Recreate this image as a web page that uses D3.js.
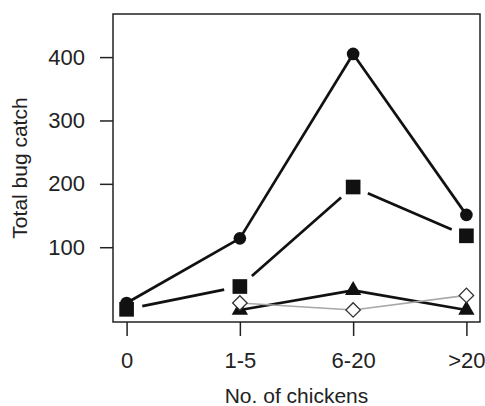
<!DOCTYPE html>
<html>
<head>
<meta charset="utf-8">
<script src="https://cdn.jsdelivr.net/npm/d3@7"></script>
<style>
  body { margin: 0; background: #fff; }
  text { font-family: "Liberation Sans", Arial, sans-serif; fill: #222; }
</style>
</head>
<body>
<div id="chart"></div>
<script>
// categories on the x axis
var categories = ["0", "1-5", "6-20", ">20"];

// series (null = no point)
var circleSeries = [12, 114, 405, 151];
var squareSeries = [2, 38, 195, 118];
var triangleSeries = [null, 1, 32, 1];
var diamondSeries = [null, 12, 1, 24];

var yTicks = [100, 200, 300, 400];

var width = 485, height = 406;
var plotLeft = 113, plotRight = 480, plotTop = 14, plotBottom = 322;

var svg = d3.select("#chart").append("svg")
  .attr("width", width)
  .attr("height", height);

// R style 4% padding
var x = d3.scaleLinear().domain([0.88, 4.12]).range([plotLeft, plotRight]);
var y = d3.scaleLinear().domain([-18, 468]).range([plotBottom, plotTop]);

//box
svg.append("rect")
  .attr("x", plotLeft).attr("y", plotTop)
  .attr("width", plotRight - plotLeft).attr("height", plotBottom - plotTop)
  .attr("fill", "none").attr("stroke", "#222").attr("stroke-width", 1.5);

// y axis
var yAxis = d3.axisLeft(y).tickValues(yTicks).tickSize(13).tickPadding(15);
var gy = svg.append("g").attr("transform", "translate(" + plotLeft + ",0)").call(yAxis);
gy.select(".domain").remove();
gy.selectAll("line").attr("stroke", "#222").attr("stroke-width", 1.5);
gy.selectAll("text").style("font-size", "22px").attr("fill", "#222")
  .style("font-family", "Liberation Sans, Arial, sans-serif");

// x axis
var xAxis = d3.axisBottom(x).tickValues([1, 2, 3, 4])
  .tickFormat(function (d) { return categories[d - 1]; })
  .tickSize(14).tickPadding(16);
var gx = svg.append("g").attr("transform", "translate(0," + plotBottom + ")").call(xAxis);
gx.select(".domain").remove();
gx.selectAll("line").attr("stroke", "#222").attr("stroke-width", 1.5);
gx.selectAll("text").style("font-size", "22px").attr("fill", "#222")
  .style("font-family", "Liberation Sans, Arial, sans-serif");

// axis titles
svg.append("text")
  .attr("x", (plotLeft + plotRight) / 2).attr("y", 403)
  .attr("text-anchor", "middle").style("font-size", "21px")
  .text("No. of chickens");

svg.append("text")
  .attr("transform", "translate(27," + ((plotTop + plotBottom) / 2) + ") rotate(-90)")
  .attr("text-anchor", "middle").style("font-size", "21px")
  .text("Total bug catch");

function points(values) {
  var pts = [];
  values.forEach(function (v, i) {
    if (v !== null) pts.push([x(i + 1), y(v)]);
  });
  return pts;
}

// draw a line, with gaps round the points if gap > 0 (like type="b")
function drawLine(values, color, lw, gap) {
  var pts = points(values);
  for (var i = 0; i < pts.length - 1; i++) {
    var a = pts[i], b = pts[i + 1];
    var dx = b[0] - a[0], dy = b[1] - a[1];
    var len = Math.sqrt(dx * dx + dy * dy);
    var ux = dx / len, uy = dy / len;
    svg.append("line")
      .attr("x1", a[0] + ux * gap).attr("y1", a[1] + uy * gap)
      .attr("x2", b[0] - ux * gap).attr("y2", b[1] - uy * gap)
      .attr("stroke", color).attr("stroke-width", lw);
  }
}

function drawMarkers(values, symbol, size, fill, stroke, sw, rot) {
  svg.append("g").selectAll("path")
    .data(points(values))
    .enter().append("path")
    .attr("transform", function (d) {
      return "translate(" + d[0] + "," + d[1] + ") rotate(" + (rot || 0) + ")";
    })
    .attr("d", d3.symbol().type(symbol).size(size))
    .attr("fill", fill)
    .attr("stroke", stroke)
    .attr("stroke-width", sw);
}

// circles
drawLine(circleSeries, "#111", 2.7, 0);
drawMarkers(circleSeries, d3.symbolCircle, 125, "#111", "none", 0);

// squares
drawLine(squareSeries, "#111", 2.7, 16);
drawMarkers(squareSeries, d3.symbolSquare, 215, "#111", "none", 0);

// triangles
drawLine(triangleSeries, "#111", 2.7, 0);
drawMarkers(triangleSeries, d3.symbolTriangle, 115, "#111", "none", 0);

// diamonds (grey line on top)
drawLine(diamondSeries, "#a8a8a8", 1.6, 0);
drawMarkers(diamondSeries, d3.symbolSquare, 105, "#fff", "#333", 1.3, 45);
</script>
</body>
</html>
